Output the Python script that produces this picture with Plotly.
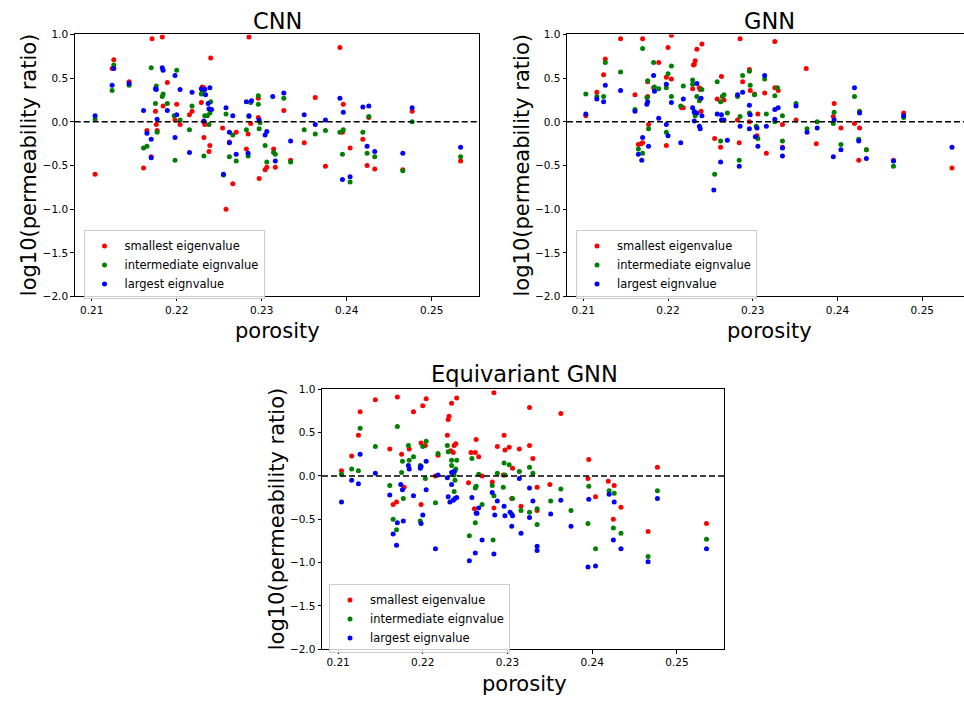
import plotly.graph_objects as go

W, H = 964, 703
SY, CY = 0.983, 5.0   # observed vertical mapping of the captured page

# ---------------- data ----------------
cnn_small_x = [0.2104,0.2126,0.2124,0.2144,0.2171,0.2183,0.2165,0.2170,0.2161,0.2189,0.2175,0.2176,0.2177,0.2184,0.2200,0.2198,0.2204,0.2218,0.2215,0.2230,0.2229,0.2240,0.2232,0.2232,0.2233,0.2232,0.2239,0.2238,0.2258,0.2254,0.2270,0.2262,0.2266,0.2285,0.2296,0.2296,0.2287,0.2284,0.2282,0.2314,0.2306,0.2304,0.2316,0.2297,0.2326,0.2363,0.2350,0.2334,0.2375,0.2392,0.2396,0.2395,0.2404,0.2426,0.2419,0.2424,0.2433,0.2466,0.2477,0.2534]
cnn_small_y = [-0.60,0.71,0.61,0.46,0.95,0.97,-0.10,-0.40,-0.53,0.45,0.12,-0.03,-0.10,0.18,0.20,0.02,-0.03,0.12,0.08,0.40,0.22,0.73,0.39,0.00,-0.03,-0.18,-0.27,-0.34,-1.00,-0.07,-0.12,-0.23,-0.71,0.97,0.27,0.05,-0.02,-0.14,-0.31,-0.31,-0.52,-0.55,-0.52,-0.65,0.13,0.28,-0.24,-0.44,-0.51,0.85,0.20,-0.12,-0.30,0.05,-0.20,-0.50,-0.54,-0.55,0.12,-0.45]
cnn_mid_x = [0.2104,0.2126,0.2124,0.2144,0.2170,0.2161,0.2165,0.2176,0.2183,0.2184,0.2175,0.2177,0.2189,0.2200,0.2197,0.2204,0.2198,0.2215,0.2218,0.2230,0.2229,0.2240,0.2239,0.2236,0.2233,0.2238,0.2232,0.2258,0.2266,0.2262,0.2270,0.2255,0.2287,0.2296,0.2296,0.2285,0.2298,0.2282,0.2284,0.2297,0.2304,0.2314,0.2316,0.2306,0.2326,0.2350,0.2363,0.2334,0.2375,0.2396,0.2392,0.2395,0.2404,0.2426,0.2419,0.2424,0.2433,0.2466,0.2477,0.2534]
cnn_mid_y = [0.03,0.65,0.36,0.42,0.62,-0.30,-0.28,0.41,0.29,0.32,0.21,-0.12,0.21,0.59,0.07,0.02,-0.44,-0.09,0.18,0.34,0.32,0.23,0.10,0.07,0.07,-0.03,-0.39,0.09,-0.15,-0.40,-0.45,-0.61,0.22,0.30,0.20,0.06,-0.01,-0.09,-0.39,-0.08,-0.27,-0.35,-0.37,-0.46,0.27,-0.09,-0.14,-0.46,-0.10,-0.09,-0.12,-0.37,-0.69,0.06,-0.12,-0.36,-0.40,-0.56,0.00,-0.40]
cnn_large_x = [0.2104,0.2126,0.2124,0.2144,0.2161,0.2165,0.2170,0.2170,0.2183,0.2184,0.2175,0.2176,0.2177,0.2189,0.2198,0.2204,0.2200,0.2198,0.2215,0.2218,0.2229,0.2233,0.2234,0.2239,0.2237,0.2238,0.2241,0.2232,0.2258,0.2266,0.2262,0.2262,0.2270,0.2255,0.2282,0.2288,0.2285,0.2297,0.2284,0.2313,0.2306,0.2304,0.2316,0.2326,0.2350,0.2363,0.2334,0.2375,0.2392,0.2396,0.2395,0.2404,0.2419,0.2426,0.2424,0.2433,0.2466,0.2477,0.2534]
cnn_large_y = [0.07,0.61,0.42,0.44,0.13,-0.13,-0.20,-0.41,0.62,0.59,0.38,0.37,0.03,0.13,0.53,0.37,0.08,-0.18,-0.35,0.34,0.38,0.37,0.31,0.39,0.21,0.15,0.14,0.01,0.16,0.07,-0.12,-0.24,-0.37,-0.60,0.23,0.24,0.07,0.02,-0.36,0.29,-0.11,-0.15,-0.45,0.33,0.08,-0.03,-0.22,0.02,0.27,0.11,-0.66,-0.63,0.17,0.18,-0.28,-0.34,-0.36,0.16,-0.29]

gnn_small_x = [0.2144,0.2170,0.2204,0.2200,0.2126,0.2124,0.2116,0.2103,0.2161,0.2189,0.2176,0.2176,0.2198,0.2204,0.2183,0.2177,0.2198,0.2170,0.2165,0.2168,0.2218,0.2216,0.2231,0.2232,0.2230,0.2234,0.2240,0.2229,0.2237,0.2238,0.2239,0.2258,0.2266,0.2263,0.2255,0.2262,0.2284,0.2285,0.2288,0.2297,0.2296,0.2302,0.2296,0.2306,0.2305,0.2316,0.2282,0.2314,0.2326,0.2363,0.2326,0.2330,0.2351,0.2335,0.2335,0.2375,0.2396,0.2395,0.2404,0.2420,0.2426,0.2425,0.2434,0.2478,0.2466,0.2535]
gnn_small_y = [0.95,0.95,0.99,0.85,0.72,0.54,0.34,0.07,0.31,0.68,0.46,0.29,0.51,0.49,0.39,-0.03,-0.27,-0.24,-0.26,-0.25,0.16,0.16,0.66,0.70,0.65,0.83,0.89,0.38,0.39,0.37,0.12,0.26,0.25,0.52,-0.19,-0.29,-0.24,0.95,0.46,0.36,0.60,0.32,0.00,0.09,-0.16,-0.36,0.02,0.33,0.92,0.61,0.39,0.36,0.02,-0.03,-0.29,-0.25,0.21,0.06,-0.07,-0.02,-0.07,-0.44,-0.32,0.10,-0.44,-0.53]
gnn_mid_x = [0.2103,0.2116,0.2124,0.2126,0.2144,0.2170,0.2183,0.2200,0.2204,0.2176,0.2184,0.2189,0.2198,0.2175,0.2204,0.2161,0.2177,0.2198,0.2165,0.2170,0.2215,0.2218,0.2229,0.2229,0.2240,0.2234,0.2237,0.2231,0.2232,0.2258,0.2262,0.2264,0.2266,0.2262,0.2270,0.2255,0.2284,0.2288,0.2296,0.2297,0.2282,0.2285,0.2296,0.2306,0.2314,0.2302,0.2304,0.2316,0.2329,0.2326,0.2335,0.2326,0.2351,0.2364,0.2376,0.2396,0.2395,0.2335,0.2420,0.2426,0.2425,0.2404,0.2434,0.2478,0.2466]
gnn_mid_y = [0.32,0.29,0.29,0.68,0.57,0.84,0.68,0.55,0.64,0.47,0.40,0.38,0.39,0.28,0.29,0.14,-0.08,-0.12,-0.31,-0.36,0.18,0.41,0.48,0.43,0.37,0.29,0.24,0.12,0.07,0.46,0.23,0.29,0.31,-0.22,0.10,-0.60,-0.44,0.53,0.58,0.42,0.29,0.06,0.10,-0.19,0.49,0.31,-0.05,0.09,0.39,0.30,0.07,0.00,0.21,-0.08,0.00,0.11,-0.02,-0.22,0.29,0.12,-0.20,-0.26,-0.32,0.05,-0.51]
gnn_large_x = [0.2103,0.2116,0.2124,0.2126,0.2144,0.2161,0.2183,0.2175,0.2176,0.2184,0.2198,0.2204,0.2189,0.2198,0.2200,0.2170,0.2177,0.2165,0.2169,0.2215,0.2218,0.2234,0.2239,0.2229,0.2231,0.2234,0.2240,0.2231,0.2237,0.2238,0.2258,0.2263,0.2263,0.2266,0.2270,0.2262,0.2254,0.2282,0.2288,0.2296,0.2297,0.2285,0.2296,0.2284,0.2314,0.2305,0.2303,0.2306,0.2316,0.2326,0.2330,0.2326,0.2351,0.2364,0.2376,0.2396,0.2420,0.2426,0.2425,0.2404,0.2395,0.2434,0.2335,0.2335,0.2478,0.2466,0.2535]
gnn_large_y = [0.09,0.26,0.23,0.42,0.36,0.12,0.53,0.20,0.23,0.35,0.43,0.22,0.04,-0.03,-0.16,-0.18,-0.28,-0.37,-0.44,-0.24,0.26,0.44,0.27,0.16,0.11,0.10,0.07,0.01,-0.05,-0.08,0.09,0.08,0.02,0.02,-0.21,-0.46,-0.78,0.31,0.34,0.19,0.08,-0.05,-0.08,-0.51,0.53,-0.07,-0.17,-0.28,-0.05,0.14,0.16,0.03,0.18,-0.12,-0.07,0.02,0.39,0.10,-0.22,-0.32,-0.40,-0.42,-0.30,-0.39,0.07,-0.45,-0.29]

egnn_small_x = [0.2104,0.2116,0.2124,0.2126,0.2144,0.2170,0.2161,0.2175,0.2184,0.2189,0.2200,0.2204,0.2198,0.2203,0.2178,0.2169,0.2165,0.2198,0.2218,0.2215,0.2230,0.2231,0.2234,0.2240,0.2229,0.2233,0.2236,0.2237,0.2239,0.2257,0.2262,0.2266,0.2263,0.2254,0.2261,0.2270,0.2284,0.2288,0.2297,0.2302,0.2296,0.2306,0.2295,0.2282,0.2284,0.2305,0.2326,0.2363,0.2314,0.2326,0.2330,0.2335,0.2350,0.2316,0.2335,0.2396,0.2395,0.2419,0.2426,0.2404,0.2434,0.2425,0.2477,0.2466,0.2535]
egnn_small_y = [0.06,0.23,0.47,0.74,0.88,0.91,0.31,0.25,0.31,0.74,0.81,0.89,0.38,0.35,-0.13,-0.30,-0.33,-0.33,0.24,0.00,0.65,0.69,0.84,0.90,0.47,0.29,0.27,0.35,0.37,0.27,0.27,0.22,0.42,-0.08,-0.38,0.00,0.96,0.34,0.30,0.33,0.47,0.09,0.01,-0.07,-0.37,-0.26,0.79,0.72,0.31,0.35,0.20,-0.13,-0.10,-0.35,-0.40,0.19,-0.03,-0.06,-0.11,-0.24,-0.36,-0.50,0.10,-0.64,-0.55]
egnn_mid_x = [0.2104,0.2116,0.2124,0.2126,0.2144,0.2170,0.2183,0.2184,0.2189,0.2176,0.2175,0.2161,0.2177,0.2165,0.2169,0.2197,0.2204,0.2200,0.2203,0.2197,0.2215,0.2218,0.2229,0.2230,0.2234,0.2240,0.2234,0.2238,0.2239,0.2237,0.2238,0.2237,0.2258,0.2262,0.2263,0.2270,0.2262,0.2255,0.2266,0.2283,0.2282,0.2284,0.2288,0.2296,0.2302,0.2297,0.2295,0.2305,0.2306,0.2314,0.2326,0.2330,0.2326,0.2316,0.2335,0.2335,0.2351,0.2363,0.2375,0.2396,0.2395,0.2404,0.2420,0.2426,0.2425,0.2434,0.2477,0.2466,0.2535]
egnn_mid_y = [0.02,0.08,0.06,0.55,0.34,0.57,0.35,0.18,0.22,0.17,0.04,-0.11,-0.26,-0.50,-0.62,0.12,0.40,0.34,-0.03,-0.52,-0.31,0.26,0.35,0.28,0.18,0.18,0.12,0.06,0.08,0.01,-0.05,-0.18,0.20,-0.14,-0.12,-0.33,-0.54,-0.69,0.02,-0.74,-0.11,-0.23,0.03,0.15,0.13,0.01,-0.13,-0.44,-0.26,0.05,0.10,0.03,-0.42,-0.40,-0.38,-0.56,-0.29,-0.15,-0.40,-0.12,-0.55,-0.84,-0.17,-0.20,-0.60,-0.66,-0.17,-0.93,-0.73]
egnn_large_x = [0.2104,0.2116,0.2124,0.2126,0.2144,0.2161,0.2174,0.2176,0.2183,0.2184,0.2189,0.2165,0.2169,0.2170,0.2177,0.2197,0.2198,0.2204,0.2204,0.2200,0.2198,0.2215,0.2218,0.2229,0.2234,0.2237,0.2234,0.2230,0.2232,0.2236,0.2238,0.2240,0.2258,0.2263,0.2264,0.2266,0.2270,0.2262,0.2255,0.2284,0.2285,0.2282,0.2288,0.2296,0.2297,0.2303,0.2306,0.2305,0.2314,0.2326,0.2330,0.2326,0.2316,0.2335,0.2335,0.2351,0.2363,0.2375,0.2396,0.2395,0.2404,0.2420,0.2426,0.2425,0.2434,0.2477,0.2466,0.2535]
egnn_large_y = [-0.30,-0.05,-0.09,0.25,0.03,-0.22,-0.10,-0.16,0.12,0.08,-0.23,-0.67,-0.80,-0.54,-0.52,0.09,0.11,0.17,-0.16,-0.45,-0.55,-0.84,0.01,-0.02,0.04,0.05,-0.10,-0.24,-0.30,-0.28,-0.26,-0.25,-0.25,-0.43,-0.43,-0.37,-0.74,-0.89,-0.98,-0.90,-0.45,-0.19,-0.29,-0.35,-0.46,-0.42,-0.46,-0.58,-0.03,-0.14,-0.29,-0.48,-0.66,-0.81,-0.86,-0.44,-0.28,-0.58,-0.27,-1.05,-1.04,-0.21,-0.30,-0.74,-0.84,-0.26,-0.99,-0.84]

panel_titles = ["CNN", "GNN", "Equivariant GNN"]
series_names = ["smallest eigenvalue", "intermediate eignvalue", "largest eignvalue"]
x_label = "porosity"
y_label = "log10(permeability ratio)"
x_ticks = [0.21, 0.22, 0.23, 0.24, 0.25]
y_ticks = [-2.0, -1.5, -1.0, -0.5, 0.0, 0.5, 1.0]

panels = [
    [(cnn_small_x, cnn_small_y), (cnn_mid_x, cnn_mid_y), (cnn_large_x, cnn_large_y)],
    [(gnn_small_x, gnn_small_y), (gnn_mid_x, gnn_mid_y), (gnn_large_x, gnn_large_y)],
    [(egnn_small_x, egnn_small_y), (egnn_mid_x, egnn_mid_y), (egnn_large_x, egnn_large_y)],
]

# ---------------- layout geometry (target picture pixels) ----------------
colors = ["#ff0000", "#008000", "#0000ff"]
FONT = "DejaVu Sans"
boxes = [(74.7, 479.3, 33.5, 295.5), (567.0, 964.0, 33.5, 295.5), (322.0, 724.3, 388.3, 648.3)]
xranges = [[0.2080, 0.2556], [0.20808, 0.25492], [0.2081, 0.2556]]
legend_pos = [(83.5, 229.5), (576.0, 229.5), (329.0, 583.5)]


def fx(v):  # picture x -> paper x
    return v / W


def fy(v):  # picture y -> paper y
    return 1 - ((v - CY) / SY) / H


fig = go.Figure()

for p, series in enumerate(panels):
    ax = "" if p == 0 else str(p + 1)
    leg = "legend" if p == 0 else f"legend{p + 1}"
    for s, (xs, ys) in enumerate(series):
        fig.add_trace(go.Scatter(
            x=xs, y=ys, mode="markers", name=series_names[s],
            marker=dict(color=colors[s], size=5, line=dict(width=0)),
            xaxis="x" + ax, yaxis="y" + ax, legend=leg, showlegend=True,
        ))

layout = dict(
    width=W, height=H, margin=dict(l=0, r=0, t=0, b=0),
    paper_bgcolor="white", plot_bgcolor="white",
    font=dict(family=FONT, color="black"),
    shapes=[], annotations=[],
)

for p in range(3):
    l, r, t, b = boxes[p]
    ax = "" if p == 0 else str(p + 1)
    xdom = [fx(l), min(fx(r), 1.0)]
    ydom = [fy(b), fy(t)]
    common = dict(showgrid=False, zeroline=False, showline=True, linecolor="black",
                  linewidth=1, ticks="outside", ticklen=3.5, tickwidth=1, tickcolor="black",
                  tickfont=dict(family=FONT, size=10.5, color="black"))
    layout["xaxis" + ax] = dict(common, domain=xdom, range=xranges[p], tickvals=x_ticks,
                                ticktext=[f"{v:.2f}" for v in x_ticks], mirror=True,
                                anchor="y" + ax)
    layout["yaxis" + ax] = dict(common, domain=ydom, range=[-2, 1], tickvals=y_ticks,
                                ticktext=[f"{v:.1f}".replace("-", "\u2212") for v in y_ticks],
                                mirror=(p != 1), anchor="x" + ax)
    layout["shapes"].append(dict(type="line", xref="x" + ax + " domain", yref="y" + ax,
                                 x0=0, x1=1, y0=0, y1=0,
                                 line=dict(color="black", width=1.5, dash="6px,3px")))
    cx = fx(l + 202.3)
    if p < 2:
        title_pos = dict(y=1.0, yanchor="top")
    else:
        title_pos = dict(y=fy(t - 15.3), yanchor="middle")
    layout["annotations"].append(dict(text=panel_titles[p], xref="paper", yref="paper",
                                      x=cx, xanchor="center", showarrow=False,
                                      font=dict(family=FONT, size=22.5, color="black"), **title_pos))
    layout["annotations"].append(dict(text=x_label, xref="paper", yref="paper",
                                      x=cx, y=fy(b + 20.5), xanchor="center", yanchor="top",
                                      showarrow=False, font=dict(family=FONT, size=21, color="black")))
    layout["annotations"].append(dict(text=y_label, xref="paper", yref="paper",
                                      x=fx(l - 45), y=fy((t + b) / 2), xanchor="center", yanchor="middle",
                                      textangle=-90, showarrow=False,
                                      font=dict(family=FONT, size=21, color="black")))
    lx, ly = legend_pos[p]
    layout["legend" if p == 0 else f"legend{p + 1}"] = dict(
        x=fx(lx), y=fy(ly), xanchor="left", yanchor="top", xref="paper", yref="paper",
        bgcolor="rgba(255,255,255,0.8)", bordercolor="#cccccc", borderwidth=1,
        font=dict(family=FONT, size=11.5, color="black"), itemwidth=30, tracegroupgap=0)

fig.update_layout(**layout)
fig.write_html("out.html", config={"displayModeBar": False},
               post_script="document.body.style.margin='0';")
